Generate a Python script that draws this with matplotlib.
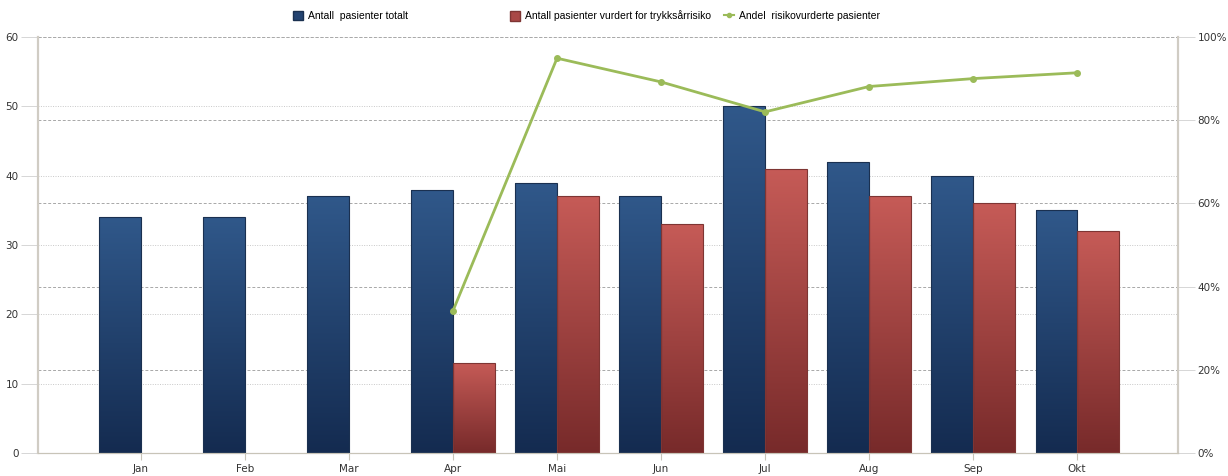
import numpy as np
import matplotlib
matplotlib.use('Agg')
import matplotlib.pyplot as plt
from matplotlib.colors import LinearSegmentedColormap
from matplotlib.patches import Patch
from matplotlib.lines import Line2D

months = ['Jan', 'Feb', 'Mar', 'Apr', 'Mai', 'Jun', 'Jul', 'Aug', 'Sep', 'Okt']
totalt = [34, 34, 37, 38, 39, 37, 50, 42, 40, 35]
vurdert = [np.nan, np.nan, np.nan, 13, 37, 33, 41, 37, 36, 32]
andel = [np.nan, np.nan, np.nan, 34.2, 94.9, 89.2, 82.0, 88.1, 90.0, 91.4]

lbl_tot = 'Antall  pasienter totalt'
lbl_vur = 'Antall pasienter vurdert for trykksårrisiko'
lbl_and = 'Andel  risikovurderte pasienter'

plt.rcParams['font.family'] = ['DejaVu Sans']
plt.rcParams['font.size'] = 7.5

fig = plt.figure(figsize=(12.28, 4.76), dpi=100)
ax = fig.add_axes([38/1228, 1-453/476, 1140/1228, 416/476])
ax2 = ax.twinx()

x = np.arange(len(months))
w = 0.4

blue_cm = LinearSegmentedColormap.from_list('b', ['#142b50', '#30588a'])
red_cm = LinearSegmentedColormap.from_list('r', ['#772a2a', '#c65b57'])
grad = np.linspace(0, 1, 256).reshape(-1, 1)

def gradient_bars(xs, vals, cmap, edge):
    bars = ax.bar(xs, vals, w, align='edge', facecolor='none', edgecolor=edge,
                  linewidth=0.8, zorder=3)
    for b in bars:
        h = b.get_height()
        if not np.isfinite(h) or h == 0:
            continue
        x0 = b.get_x()
        im = ax.imshow(grad, cmap=cmap, origin='lower', aspect='auto',
                       extent=[x0, x0 + b.get_width(), 0, h], zorder=2)
        im.set_clip_path(b)

gradient_bars(x - w, totalt, blue_cm, '#1a3050')
gradient_bars(x, vurdert, red_cm, '#7e3533')

ax.set_xlim(-0.99, 9.97)
ax.set_ylim(0, 60)
ax.set_yticks(range(0, 61, 10))
ax.set_xticks(x)
ax.set_xticklabels(months)

# grid lines: left axis (dotted) and right axis (dashed) both behind bars
for v in range(10, 61, 10):
    ax.axhline(v, color='#c8c8c8', linestyle=(0, (1, 1.5)), linewidth=0.7, zorder=1)
pct_ticks = [0, 20, 40, 60, 80, 100]
for p in pct_ticks[1:]:
    ax.axhline(p * 60 / 100, color='#a8a8a8', linestyle=(0, (3, 2)), linewidth=0.7, zorder=1)

ax2.plot(x, andel, color='#9bbb59', linewidth=2, marker='o', markersize=4, zorder=5)
ax2.set_ylim(0, 100)
ax2.set_yticks(pct_ticks)
ax2.set_yticklabels([f'{p}%' for p in pct_ticks])

for a in (ax, ax2):
    a.spines['top'].set_visible(False)
    a.spines['left'].set_color('#d0ccc4')
    a.spines['right'].set_color('#d0ccc4')
    a.spines['left'].set_linewidth(1.5)
    a.spines['right'].set_linewidth(1.5)
    a.spines['bottom'].set_color('#c8c4b8')
    a.tick_params(colors='#444444', labelcolor='#333333')
ax.tick_params(axis='y', length=12, color='#d0d0d0', width=0.6, pad=2)
ax2.tick_params(axis='y', length=12, color='#d0d0d0', width=0.6, pad=2)
ax.tick_params(axis='x', length=5, color='#c8c4b8', pad=3)

handles = [
    (Patch(facecolor='#234371', edgecolor='#1a3050'), lbl_tot, 293),
    (Patch(facecolor='#a94846', edgecolor='#7e3533'), lbl_vur, 510),
    (Line2D([], [], color='#9bbb59', marker='o', markersize=3, linewidth=1.5), lbl_and, 724),
]
for h, l, px in handles:
    fig.legend([h], [l], loc='center left', bbox_to_anchor=(px / 1228, 1 - 16 / 476),
               frameon=False, handlelength=1.0, handleheight=1.0,
               handletextpad=0.4, borderaxespad=0, borderpad=0,
               prop={'family': 'Liberation Sans', 'size': 7.5})

fig.savefig('out.png', dpi=100)
